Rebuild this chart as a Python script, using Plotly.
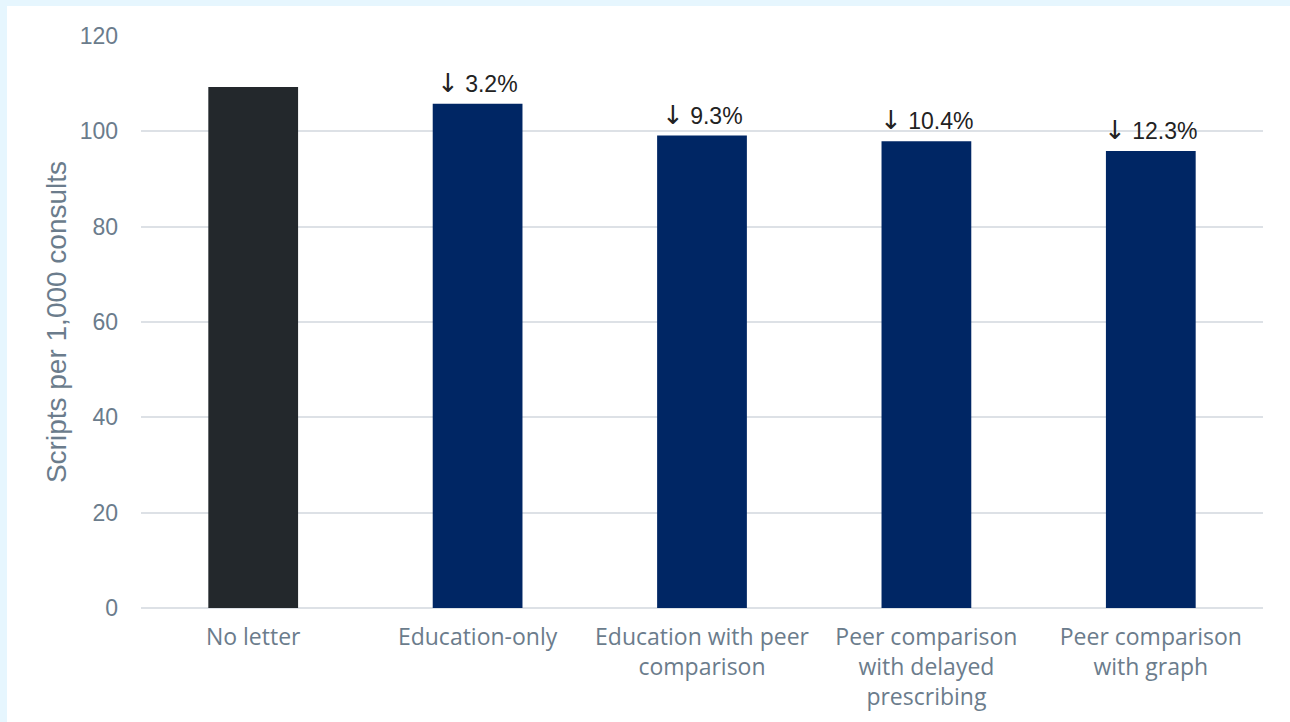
import plotly.graph_objects as go

categories = ["No letter", "Education-only", "Education with peer<br>comparison",
              "Peer comparison<br>with delayed<br>prescribing", "Peer comparison<br>with graph"]
values = [109.3, 105.8, 99.1, 97.9, 95.9]
labels = ["", "3.2%", "9.3%", "10.4%", "12.3%"]
colors = ["#23282C", "#002664", "#002664", "#002664", "#002664"]
y_ticks = [0, 20, 40, 60, 80, 100, 120]

W, H = 1290, 722
L, R, T, B = 141, 27, 36, 114
pw, ph = W - L - R, H - T - B

fig = go.Figure(go.Bar(
    x=categories, y=values, marker=dict(color=colors, line=dict(width=0)),
    hoverinfo="x+y",
))

for c, v, t in zip(categories, values, labels):
    if t:
        fig.add_annotation(x=c, y=v, showarrow=False, yanchor="bottom", yshift=4,
                           text="<span style='font-family:DejaVu Sans;font-size:26px'>↓</span> " + t,
                           font=dict(family="Liberation Sans, Arial, sans-serif", size=23, color="#222222"))

fig.add_shape(type="rect", xref="paper", yref="paper", layer="below",
              x0=(7 - L) / pw, x1=(W + 5 - L) / pw, y0=-(B + 5) / ph, y1=(H - B - 6) / ph,
              fillcolor="white", line=dict(width=0))

fig.update_layout(
    width=W, height=H,
    margin=dict(l=L, r=R, t=T, b=B),
    paper_bgcolor="#E6F6FE", plot_bgcolor="white",
    bargap=0.6, showlegend=False,
    font=dict(family="Liberation Sans, Arial, sans-serif", color="#6B7C8C"),
)
fig.update_yaxes(range=[0, 120], tickvals=y_ticks, showgrid=True, gridcolor="#DDE1E6", gridwidth=2,
                 zeroline=True, zerolinecolor="#DDE1E6", zerolinewidth=2, automargin=False,
                 tickfont=dict(family="Liberation Sans, Arial, sans-serif", size=23, color="#6B7C8C"),
                 ticks="", ticklabelstandoff=22,
                 title=dict(text="Scripts per 1,000 consults", standoff=4,
                            font=dict(family="Liberation Sans, Arial, sans-serif", size=28, color="#6B7C8C")))
fig.update_xaxes(tickfont=dict(family="Open Sans, sans-serif", size=23, color="#6B7C8C"), ticks="",
                 showline=False, ticklabelstandoff=13, automargin=False)

fig.write_html("out.html", config={"displayModeBar": False},
               post_script="document.body.style.margin='0';document.body.style.overflow='hidden';")
